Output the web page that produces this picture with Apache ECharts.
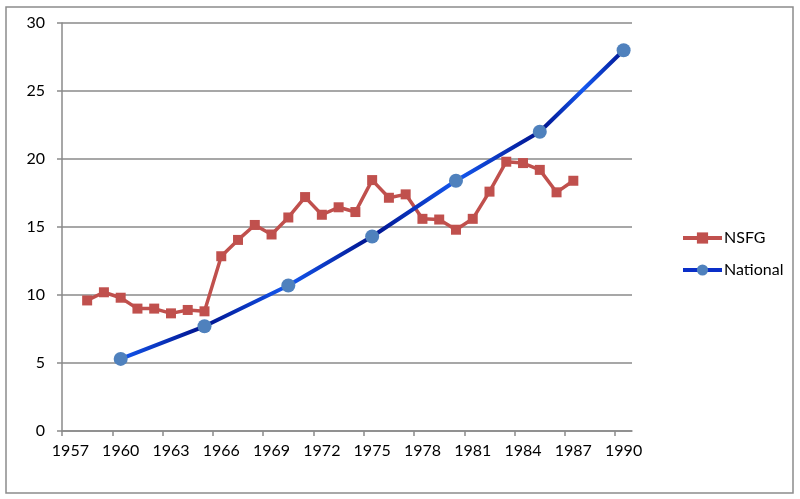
<!DOCTYPE html>
<html>
<head>
<meta charset="utf-8">
<script src="https://cdn.jsdelivr.net/npm/echarts@6/dist/echarts.min.js"></script>
<style>
html,body{margin:0;padding:0;background:#fff;}
#c{width:800px;height:499px;}
</style>
</head>
<body>
<div id="c"></div>
<script>
var nsfgYears = [1958,1959,1960,1961,1962,1963,1964,1965,1966,1967,1968,1969,1970,1971,1972,1973,1974,1975,1976,1977,1978,1979,1980,1981,1982,1983,1984,1985,1986,1987];
var nsfgValues = [9.6,10.2,9.8,9.0,9.0,8.65,8.9,8.8,12.85,14.05,15.15,14.45,15.7,17.2,15.9,16.45,16.1,18.45,17.15,17.4,15.6,15.55,14.8,15.6,17.6,19.8,19.7,19.2,17.55,18.4];
var nationalYears = [1960,1965,1970,1975,1980,1985,1990];
var nationalValues = [5.3,7.7,10.7,14.3,18.4,22.0,28.0];
var xTickLabels = [1957,1960,1963,1966,1969,1972,1975,1978,1981,1984,1987,1990];
var xTickMarks = [1956.5,1959.5,1962.5,1965.5,1968.5,1971.5,1974.5,1977.5,1980.5,1983.5,1986.5,1989.5];
var seriesNames = ['NSFG','National'];

var chart = echarts.init(document.getElementById('c'), null, {renderer:'canvas'});
var FONT = 'Lato';
var bright = '#1458f0', dark = '#00128c';
var grad = new echarts.graphic.LinearGradient(0,0,1,0,[
  {offset:0, color:bright},
  {offset:1/6, color:dark},
  {offset:2/6, color:bright},
  {offset:3/6, color:dark},
  {offset:4/6, color:bright},
  {offset:5/6, color:dark},
  {offset:11/12, color:bright},
  {offset:1, color:dark}
]);

chart.setOption({
  animation:false,
  backgroundColor:'#fff',
  textStyle:{fontFamily:FONT},
  graphic:[{type:'rect', shape:{x:6, y:7, width:787, height:486}, style:{fill:'none', stroke:'#8c8c8c', lineWidth:1.5}, silent:true, z:-1}],
  grid:{left:62, top:23, right:168, bottom:68, containLabel:false},
  legend:{
    orient:'vertical', left:676, top:225, itemWidth:39, itemHeight:14, itemGap:16,
    textStyle:{fontFamily:FONT, fontSize:16, color:'#000', padding:[0,0,0,-3]},
    data:[
      {name:'NSFG', lineStyle:{color:'#c0504d', width:4}},
      {name:'National', lineStyle:{color:'#0a2fc8', width:4}}
    ]
  },
  xAxis:{
    type:'value', min:1956.5, max:1990.5,
    axisLine:{show:true, lineStyle:{color:'#8a8a8a', width:1.5}},
    axisTick:{show:true, length:5, customValues:xTickMarks, lineStyle:{color:'#8a8a8a', width:1.5}},
    axisLabel:{customValues:xTickLabels, fontFamily:FONT, fontSize:16, color:'#000', margin:12, formatter:function(v){return String(v);}},
    splitLine:{show:false}
  },
  yAxis:{
    type:'value', min:0, max:30, interval:5,
    axisLine:{show:true, lineStyle:{color:'#8a8a8a', width:1.5}},
    axisTick:{show:true, length:5, lineStyle:{color:'#8a8a8a', width:1.5}},
    axisLabel:{fontFamily:FONT, fontSize:16, color:'#000', margin:17},
    splitLine:{show:true, lineStyle:{color:'#8a8a8a', width:1.5}}
  },
  series:[
    {
      name:seriesNames[0], type:'line',
      data:nsfgYears.map(function(y,i){return [y, nsfgValues[i]];}),
      symbol:'rect', symbolSize:10, showSymbol:true,
      lineStyle:{color:'#c0504d', width:3.5},
      itemStyle:{color:'#c0504d'},
      z:2
    },
    {
      name:seriesNames[1], type:'line',
      data:nationalYears.map(function(y,i){return [y, nationalValues[i]];}),
      symbol:'circle', symbolSize:14, showSymbol:true,
      lineStyle:{color:grad, width:4},
      itemStyle:{color:'#4f81bd'},
      z:3
    }
  ]
});
</script>
</body>
</html>
